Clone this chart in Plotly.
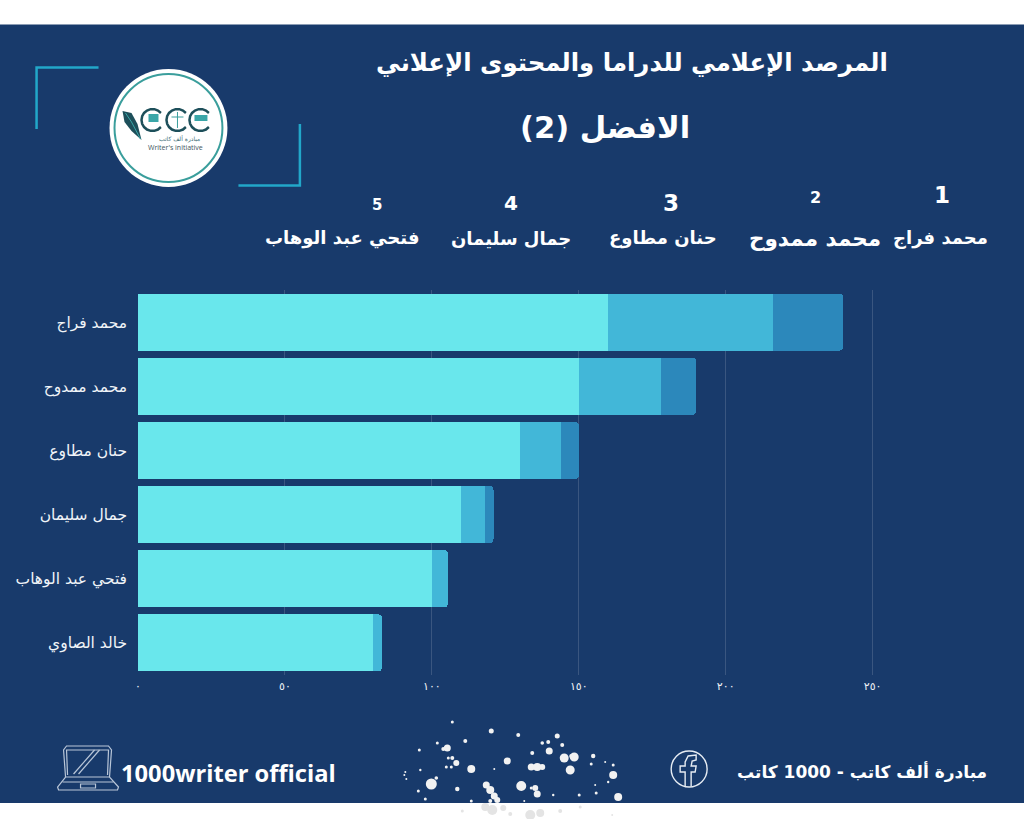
import math
import plotly.graph_objects as go

# ---------- data ----------
categories = ["محمد فراج", "محمد ممدوح", "حنان مطاوع", "جمال سليمان", "فتحي عبد الوهاب", "خالد الصاوي"]
series_a = [160, 150, 130, 110, 100, 80]
series_b = [56, 28, 14, 8, 5.5, 3]
series_c = [24, 12, 6, 3, 0, 0]
tick_values = [0, 50, 100, 150, 200, 250]
tick_labels = ["٠", "٥٠", "١٠٠", "١٥٠", "٢٠٠", "٢٥٠"]
title_line1 = "المرصد الإعلامي للدراما والمحتوى الإعلاني"
title_line2 = "الافضل (2)"
ranks = ["1", "2", "3", "4", "5"]
rank_names = ["محمد فراج", "محمد ممدوح", "حنان مطاوع", "جمال سليمان", "فتحي عبد الوهاب"]

# ---------- layout constants ----------
W, H = 1024, 819
L, R, T, B = 137.5, 122, 290, 144
BG = "#183A6B"
ARABIC = "DejaVu Sans"
pw, ph = W - L - R, H - T - B

def px(x):
    return (x - L) / pw

def py(y):
    return 1 - (y - T) / ph

fig = go.Figure()
for vals, col in ((series_a, "#69E7EC"), (series_b, "#42B7D8"), (series_c, "#2C88BB")):
    fig.add_bar(y=categories, x=vals, orientation="h", marker=dict(color=col, line_width=0))

shapes = []
annos = []

def rect(x0, y0, x1, y1, **kw):
    shapes.append(dict(type="rect", xref="paper", yref="paper", x0=px(x0), x1=px(x1), y0=py(y0), y1=py(y1), **kw))

def circle(cx, cy, r, **kw):
    shapes.append(dict(type="circle", xref="paper", yref="paper", x0=px(cx - r), x1=px(cx + r),
                       y0=py(cy - r), y1=py(cy + r), **kw))

def path(points, close=False, **kw):
    d = "M " + " L ".join(f"{px(x):.5f},{py(y):.5f}" for x, y in points) + (" Z" if close else "")
    shapes.append(dict(type="path", xref="paper", yref="paper", path=d, **kw))

def text(x, y, s, size, font=ARABIC, color="white", anchor="center", weight=700):
    annos.append(dict(xref="paper", yref="paper", x=px(x), y=py(y), text=s, showarrow=False,
                      xanchor=anchor, yanchor="middle",
                      font=dict(family=font, size=size, color=color, weight=weight)))

# band
rect(-3, 24.5, W + 3, 803, fillcolor=BG, line_width=0, layer="below")

# corner brackets
BR = dict(line=dict(color="#22A7C9", width=2.5))
path([(36, 129), (36, 67.5), (98, 67.5)], **BR)
path([(238, 185.5), (299.5, 185.5), (299.5, 124)], **BR)

# logo
circle(168, 128, 59, fillcolor="white", line_width=0)
circle(168, 128, 54, fillcolor="rgba(0,0,0,0)", line=dict(color="#3A9E9C", width=2))
for cx, cy in ((152, 120), (177, 120), (200, 120)):
    arc = [(cx + 11 * math.cos(math.radians(a)), cy + 11 * math.sin(math.radians(a))) for a in range(40, 321, 20)]
    path(arc, line=dict(color="#1D4F5A", width=2.5))
path([(122, 111), (131, 113), (137, 124), (141, 140), (131, 131), (124, 122)], close=True,
     fillcolor="#1D4F5A", line_width=0)
path([(125, 113), (131, 122), (140, 139)], line=dict(color="#3AA6A8", width=1))
rect(148, 114, 158, 122, fillcolor="#3AA6A8", line_width=0)
path([(177, 112), (177, 128)], line=dict(color="#3A9E9C", width=1))
path([(171, 117), (183, 117)], line=dict(color="#3A9E9C", width=1))
rect(194, 115, 207, 121, fillcolor="#3AA6A8", line_width=0)
text(179, 139, "مبادرة ألف كاتب", 6, color="#3E6F78", weight=400)
text(175, 147, "Writer's initiative", 7, font="Open Sans", color="#41565E", weight=400)

# headings
text(632, 62, title_line1, 24.4)
text(605, 127, title_line2, 30.5)
rank_pos = [(942, 195, 23), (815, 198, 16), (671, 203, 23), (511, 203, 20), (377, 205, 15)]
name_x = [941, 815, 663, 511, 342]
name_sizes = [18, 21.5, 18, 18, 18]
for s, (x, y, size) in zip(ranks, rank_pos):
    text(x, y, s, size)
for s, x, size in zip(rank_names, name_x, name_sizes):
    text(x, 238, s, size)

# laptop icon
LP = dict(line=dict(color="#B9C6D8", width=1.2))
path([(65, 777), (63, 750), (66, 746), (108, 746), (111, 750), (109, 777)], **LP)
path([(67, 775), (66, 750), (108, 750), (107, 775)], **LP)
path([(73, 774), (94, 750)], **LP)
path([(78, 774), (99, 750)], **LP)
path([(65, 777), (57, 787), (58, 790), (117, 790), (118, 787), (109, 777)], close=True, **LP)
path([(62, 782), (113, 782)], **LP)
rect(80, 784, 95, 788, fillcolor="rgba(0,0,0,0)", **LP)
text(118, 773, "1000writer official", 23.7, font="Open Sans", anchor="left")

# facebook icon
FB = dict(line=dict(color="#E6ECF3", width=1.4))
circle(689, 769, 18, fillcolor="rgba(0,0,0,0)", **FB)
path([(685, 786), (685, 772), (680, 772), (680, 766), (685, 766), (685, 762), (688, 756), (696, 755),
      (696, 760), (692, 761), (691, 766), (696, 766), (695, 772), (691, 772), (691, 786)], **FB)
text(862, 771, "مبادرة ألف كاتب - 1000 كاتب", 17)

# splatter: x, y, radius
splatter = [(452, 722, 1.5), (491, 731, 2.5), (447, 748, 3.5), (443, 749, 2), (465, 741, 2), (437, 743, 1.5),
            (419, 750, 1.5), (452, 758, 2), (448, 758, 1.5), (456, 763, 3), (446, 767, 1.5), (451, 767, 1.5),
            (471, 769, 4), (507, 761, 3.5), (518, 735, 2), (557, 736, 2.5), (542, 743, 1.8), (548, 742, 2),
            (562, 745, 2), (549, 751, 3.5), (532, 753, 2), (571, 756, 2), (574, 757, 4.5), (564, 758, 4.5),
            (593, 756, 2.2), (591, 764, 1.5), (570, 770, 4.5), (613, 765, 1.5), (613, 775, 4), (605, 762, 1),
            (531, 767, 3.5), (537, 767, 4), (542, 767, 3), (431, 784, 5.5), (436, 778, 1.8), (418, 791, 1.5),
            (457, 789, 2.2), (425, 799, 1.5), (486, 785, 3.5), (490, 790, 4), (494, 796, 3.5), (497, 800, 3),
            (521, 786, 5), (535, 788, 3), (537, 794, 3.5), (531, 788, 1.5), (618, 797, 4), (596, 793, 1.5),
            (595, 785, 1), (608, 782, 1.2), (553, 795, 1.2), (579, 795, 1.5), (471, 801, 1.5), (490, 801, 2),
            (524, 801, 1), (406, 779, 1), (405, 772, 1), (404, 775, 1), (420, 770, 1.2), (494, 769, 1)]
for x, y, r in splatter:
    circle(x, y, r, fillcolor="#F2F2F2", line_width=0)
faded = [(485, 807, 4), (492, 810, 5), (503, 808, 3), (530, 815, 5), (540, 813, 4), (560, 811, 2), (462, 811, 1.5),
         (580, 807, 1.5), (612, 815, 1), (510, 814, 2)]
for x, y, r in faded:
    circle(x, y, r, fillcolor="#E4E4E4", line_width=0)

fig.update_layout(
    width=W, height=H, barmode="stack", bargap=0.11, barcornerradius=4, showlegend=False,
    paper_bgcolor="white", plot_bgcolor=BG,
    margin=dict(l=L, r=R, t=T, b=B, pad=0, autoexpand=False),
    shapes=shapes, annotations=annos,
    xaxis=dict(range=[0, 260], tickmode="array", tickvals=tick_values, ticktext=tick_labels,
               showgrid=True, gridcolor="#3A5680", gridwidth=1, zeroline=False, showline=False,
               ticks="", ticklabelstandoff=3,
               tickfont=dict(family=ARABIC, size=11, color="#F0F4F8")),
    yaxis=dict(range=[5.5, -0.5], showgrid=False, zeroline=False, showline=False, ticks="",
               ticklabelstandoff=10, tickfont=dict(family=ARABIC, size=15.5, color="#F0F4F8")),
)

fig.write_html("out.html", config={"displayModeBar": False},
               post_script="document.body.style.margin='0';")
